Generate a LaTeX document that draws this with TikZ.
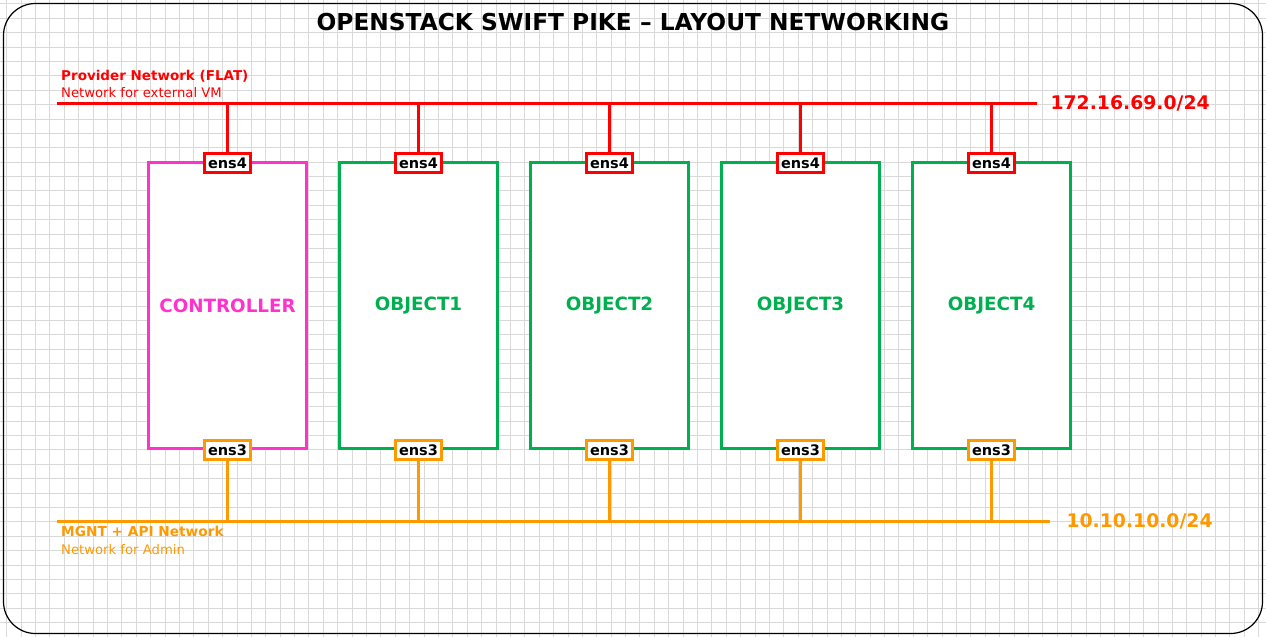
\documentclass[tikz,border=0pt]{standalone}
\usepackage{fontspec}
\setmainfont{DejaVu Sans}
\usepackage{tikz}
\usetikzlibrary{positioning}
\definecolor{provred}{RGB}{255,0,0}
\definecolor{mgntorange}{RGB}{255,153,0}
\definecolor{ctrlpink}{RGB}{255,51,204}
\definecolor{objgreen}{RGB}{0,176,80}

\begin{document}
\begin{tikzpicture}[
    x=1pt, y=-1pt,
    node distance=30pt,
    host/.style={rectangle, draw, line width=3pt, fill=white, minimum width=158pt, minimum height=286pt, inner sep=0pt, font=\fontsize{18.3}{22}\selectfont\bfseries},
    port/.style={rectangle, draw, line width=3pt, fill=white, minimum width=46pt, minimum height=19pt, inner sep=0pt, font=\fontsize{14.5}{17}\selectfont\bfseries},
    bus/.style={line width=3pt},
    gridline/.style={black!15, line width=0.8pt}
]
\useasboundingbox (0,0) rectangle (1266,637);
\foreach \k in {0,...,87} \draw[gridline] (6.7+14.39*\k,0) -- (6.7+14.39*\k,637);
\foreach \k in {0,...,43} \draw[gridline] (0,3.8+14.39*\k) -- (1266,3.8+14.39*\k);
\draw[line width=1.2pt, rounded corners=32pt] (3.5,3.5) rectangle (1262.5,633.5);

\node[anchor=base, font=\fontsize{23.3}{28}\selectfont\bfseries] (title) at (633,30) {OPENSTACK SWIFT PIKE – LAYOUT NETWORKING};

\node[host, draw=ctrlpink, text=ctrlpink] (ctrl) at (227.5,305.5) {CONTROLLER};
\node[host, draw=objgreen, text=objgreen, right=of ctrl] (obj1) {OBJECT1};
\node[host, draw=objgreen, text=objgreen, right=of obj1] (obj2) {OBJECT2};
\node[host, draw=objgreen, text=objgreen, right=of obj2] (obj3) {OBJECT3};
\node[host, draw=objgreen, text=objgreen, right=of obj3] (obj4) {OBJECT4};

\foreach \h in {ctrl,obj1,obj2,obj3,obj4} {
    \node[port, draw=provred] (\h-ens4) at ([yshift=-2pt]\h.north) {ens4};
    \node[port, draw=mgntorange] (\h-ens3) at (\h.south) {ens3};
}

\coordinate (prov-w) at (57,103);
\coordinate (prov-e) at (1037,103);
\coordinate (mgnt-w) at (57,521);
\coordinate (mgnt-e) at (1050,521);

\draw[bus, provred] (prov-w) -- (prov-e);
\draw[bus, mgntorange] (mgnt-w) -- (mgnt-e);
\foreach \h in {ctrl,obj1,obj2,obj3,obj4} {
    \draw[bus, provred] (\h-ens4.north) -- (\h-ens4.north |- prov-w);
    \draw[bus, mgntorange] (\h-ens3.south) -- (\h-ens3.south |- mgnt-w);
}

\node[anchor=west, text=provred, font=\fontsize{18.8}{22}\selectfont\bfseries] (provnet) at ([xshift=10pt]prov-e) {172.16.69.0/24};
\node[anchor=west, text=mgntorange, font=\fontsize{18.8}{22}\selectfont\bfseries] (mgntnet) at ([xshift=13pt]mgnt-e) {10.10.10.0/24};

\node[anchor=base west, text=provred, font=\fontsize{13.5}{16}\selectfont\bfseries, inner sep=0pt] (provname) at (61,80) {Provider Network (FLAT)};
\node[anchor=base west, text=provred, font=\fontsize{13.2}{16}\selectfont, inner sep=0pt] (provnote) at (61,97.5) {Network for external VM};
\node[anchor=base west, text=mgntorange, font=\fontsize{13.7}{17}\selectfont\bfseries, inner sep=0pt] (mgntname) at (61,536) {MGNT + API Network};
\node[anchor=base west, text=mgntorange, font=\fontsize{13.2}{16}\selectfont, inner sep=0pt] (mgntnote) at (61,554) {Network for Admin};
\end{tikzpicture}
\end{document}
